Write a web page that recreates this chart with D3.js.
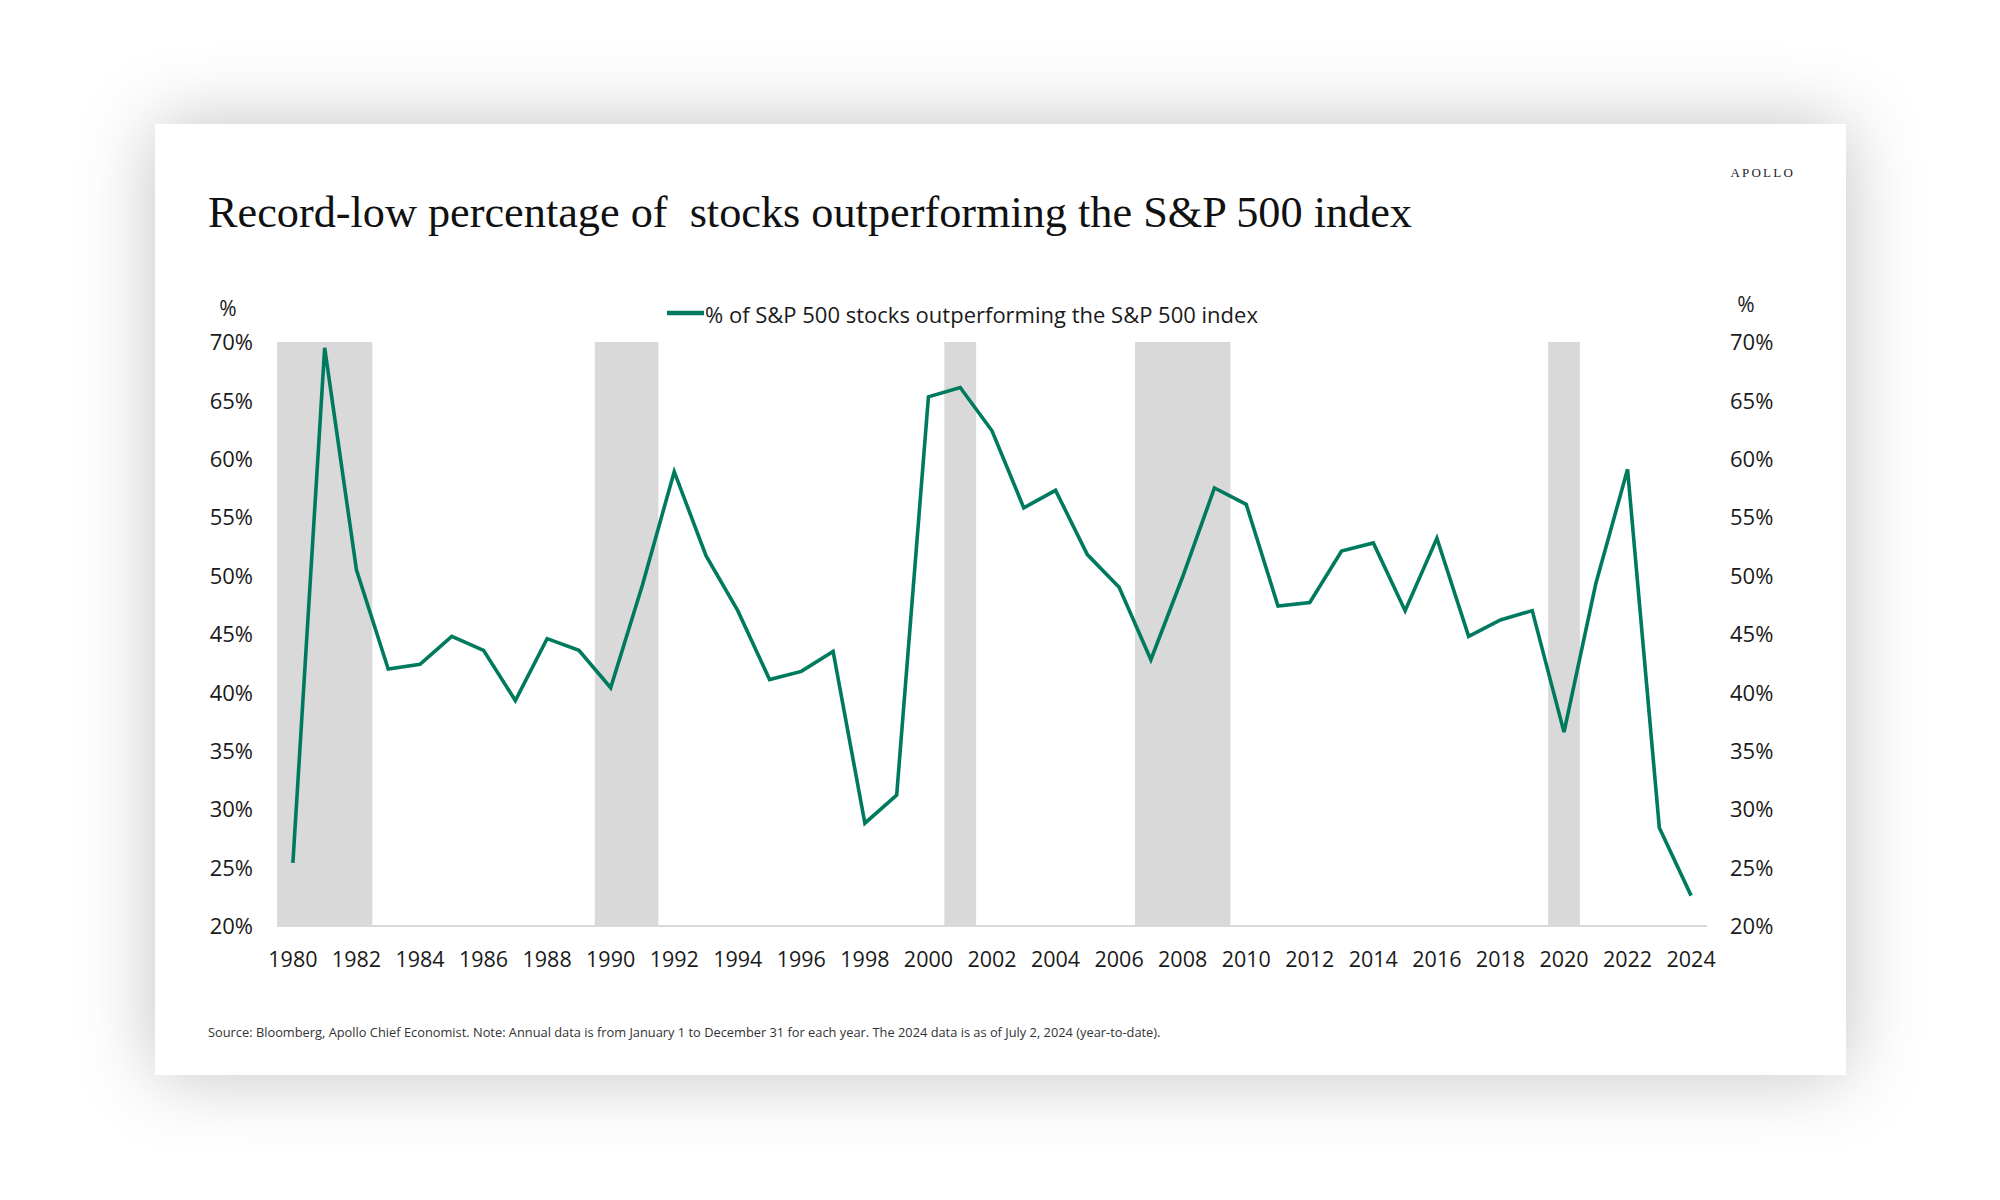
<!DOCTYPE html>
<html>
<head>
<meta charset="utf-8">
<script src="https://cdn.jsdelivr.net/npm/d3@7"></script>
<style>
  html, body { margin: 0; padding: 0; background: #ffffff; }
  svg { display: block; }
</style>
</head>
<body>
<svg id="chart" width="2000" height="1200"></svg>
<script>
// ---- Data ----
const years = d3.range(1980, 2025);
const pctOutperforming = [
  25.4, 69.5, 50.5, 42.0, 42.4, 44.8, 43.6, 39.3, 44.6, 43.6,
  40.4, 49.2, 58.9, 51.7, 47.0, 41.1, 41.8, 43.5, 28.8, 31.2,
  65.3, 66.1, 62.4, 55.8, 57.3, 51.8, 49.0, 42.8, 49.9, 57.5,
  56.1, 47.4, 47.7, 52.1, 52.8, 47.0, 53.2, 44.8, 46.2, 47.0,
  36.6, 49.3, 59.1, 28.4, 22.6
];
const recessionStart = [1980, 1990, 2001, 2007, 2020];
const recessionEnd   = [1982, 1991, 2001, 2009, 2020];
const yTicks = [20, 25, 30, 35, 40, 45, 50, 55, 60, 65, 70];
const xTickYears = d3.range(1980, 2025, 2);

const titleText = "Record-low percentage of\u00A0 stocks outperforming the S&P 500 index";
const legendText = "% of S&P 500 stocks outperforming the S&P 500 index";
const sourceText = "Source: Bloomberg, Apollo Chief Economist. Note: Annual data is from January 1 to December 31 for each year. The 2024 data is as of July 2, 2024 (year-to-date).";

// ---- Setup ----
const svg = d3.select("#chart");
const sans = "'Open Sans', 'Noto Sans', sans-serif";
const serif = "'Liberation Serif', 'DejaVu Serif', serif";
const lineColor = "#007a5e";

const defs = svg.append("defs");
const f = defs.append("filter").attr("id", "shadow")
  .attr("x", "-20%").attr("y", "-20%").attr("width", "140%").attr("height", "140%");
f.append("feDropShadow").attr("dx", 0).attr("dy", 0)
  .attr("stdDeviation", 38).attr("flood-color", "#000").attr("flood-opacity", 0.24);

// card
svg.append("rect").attr("x", 155).attr("y", 124).attr("width", 1691).attr("height", 951)
  .attr("fill", "#ffffff").attr("filter", "url(#shadow)");

// scales
const x = d3.scaleBand().domain(years).range([277, 1707]).padding(0);
const cx = yr => x(yr) + x.bandwidth() / 2;
const y = d3.scaleLinear().domain([20, 70]).range([926, 342]);

// recession bands
svg.append("g").selectAll("rect")
  .data(recessionStart.map((s, i) => [s, recessionEnd[i]]))
  .join("rect")
  .attr("x", d => x(d[0]))
  .attr("width", d => x(d[1]) + x.bandwidth() - x(d[0]))
  .attr("y", y(70))
  .attr("height", y(20) - y(70))
  .attr("fill", "#d9d9d9");

// baseline
svg.append("line").attr("x1", 277).attr("x2", 1707)
  .attr("y1", y(20)).attr("y2", y(20))
  .attr("stroke", "#d9d9d9").attr("stroke-width", 2);

// left axis labels
const yAxisL = d3.axisLeft(y).tickValues(yTicks).tickFormat(d => d + "%").tickSize(0).tickPadding(0);
const gL = svg.append("g").attr("transform", "translate(253,0)").call(yAxisL);
gL.select(".domain").remove();
gL.selectAll("text").attr("font-family", sans).attr("font-size", 22).attr("fill", "#1a1a1a").attr("dy", "0.35em");

// right axis labels
const yAxisR = d3.axisRight(y).tickValues(yTicks).tickFormat(d => d + "%").tickSize(0).tickPadding(0);
const gR = svg.append("g").attr("transform", "translate(1730,0)").call(yAxisR);
gR.select(".domain").remove();
gR.selectAll("text").attr("font-family", sans).attr("font-size", 22).attr("fill", "#1a1a1a").attr("dy", "0.35em");

// x axis labels
const xAxis = d3.axisBottom(x).tickValues(xTickYears).tickSize(0).tickPadding(0);
const gX = svg.append("g").attr("transform", "translate(0,959)").call(xAxis);
gX.select(".domain").remove();
gX.selectAll("text").attr("font-family", sans).attr("font-size", 21.5).attr("fill", "#1a1a1a").attr("dy", "0.35em");

// % unit labels
svg.append("text").attr("x", 228).attr("y", 308).attr("text-anchor", "middle")
  .attr("dominant-baseline", "central").attr("font-family", sans).attr("font-size", 21).attr("fill", "#1a1a1a").text("%");
svg.append("text").attr("x", 1746).attr("y", 304).attr("text-anchor", "middle")
  .attr("dominant-baseline", "central").attr("font-family", sans).attr("font-size", 21).attr("fill", "#1a1a1a").text("%");

// line
const line = d3.line().x((d, i) => cx(years[i])).y(d => y(d));
svg.append("path").datum(pctOutperforming)
  .attr("d", line).attr("fill", "none").attr("stroke", lineColor)
  .attr("stroke-width", 3.6).attr("stroke-linejoin", "miter").attr("stroke-miterlimit", 4);

// legend
svg.append("line").attr("x1", 667).attr("x2", 704).attr("y1", 313).attr("y2", 313)
  .attr("stroke", lineColor).attr("stroke-width", 4.5);
const leg = svg.append("text").attr("x", 705).attr("y", 314)
  .attr("dominant-baseline", "central").attr("font-family", sans).attr("font-size", 21)
  .attr("fill", "#1a1a1a").text(legendText);
(function fit(t, target) {
  const w = t.node().getComputedTextLength();
  const fs = +t.attr("font-size");
  t.attr("font-size", (fs * target / w).toFixed(2));
})(leg, 553);

// title
svg.append("text").attr("x", 208).attr("y", 227)
  .attr("font-family", serif).attr("font-size", 44).attr("fill", "#111")
  .attr("textLength", 1204).attr("lengthAdjust", "spacingAndGlyphs")
  .text(titleText);

// APOLLO logo text
svg.append("text").attr("x", 1795).attr("y", 172).attr("text-anchor", "end")
  .attr("dominant-baseline", "central").attr("font-family", serif).attr("font-size", 13)
  .attr("letter-spacing", 2.2).attr("fill", "#222").text("APOLLO");

// source
const src = svg.append("text").attr("x", 208).attr("y", 1032)
  .attr("dominant-baseline", "central").attr("font-family", sans).attr("font-size", 13)
  .attr("fill", "#333").text(sourceText);
(function fit(t, target) {
  const w = t.node().getComputedTextLength();
  const fs = +t.attr("font-size");
  t.attr("font-size", (fs * target / w).toFixed(2));
})(src, 953);
</script>
</body>
</html>
